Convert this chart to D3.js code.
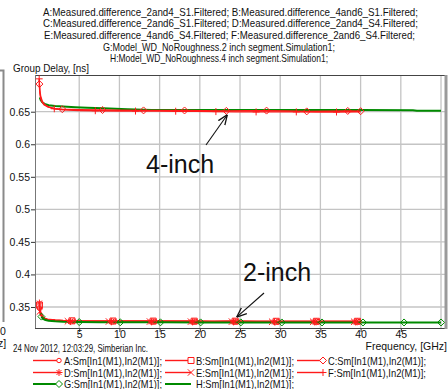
<!DOCTYPE html>
<html>
<head>
<meta charset="utf-8">
<script src="https://cdn.jsdelivr.net/npm/d3@7"></script>
<style>
  html, body { margin: 0; padding: 0; background: #ffffff; }
  svg { display: block; }
  text { font-family: "Liberation Sans", Arial, sans-serif; fill: #111; }
</style>
</head>
<body>
<svg id="chart" width="448" height="389"></svg>
<script>
// ---- Chart text ----
const titleLines = [
  "A:Measured.difference_2and4_S1.Filtered; B:Measured.difference_4and6_S1.Filtered;",
  "C:Measured.difference_2and6_S1.Filtered; D:Measured.difference_2and4_S4.Filtered;",
  "E:Measured.difference_4and6_S4.Filtered; F:Measured.difference_2and6_S4.Filtered;",
  "G:Model_WD_NoRoughness.2 inch segment.Simulation1;",
  "H:Model_WD_NoRoughness.4 inch segment.Simulation1;"
];
const yTitle = "Group Delay, [ns]";
const xTitle = "Frequency, [GHz]";
const stamp = "24 Nov 2012, 12:03:29, Simberian Inc.";
const xTicks = [5, 10, 15, 20, 25, 30, 35, 40, 45];
const xGrid = [5, 10, 15, 20, 25, 30, 35, 40, 45, 50];
const yTicks = [0.35, 0.4, 0.45, 0.5, 0.55, 0.6, 0.65];
const legendSuffix = ":Sm[In1(M1),In2(M1)];";

// ---- Series: [frequency GHz, group delay ns] ----
// 4-inch segment (difference 2 and 6)
const seriesC = [[0.05,0.6925],[0.1,0.683],[0.2,0.674],[0.4,0.666],[0.7,0.661],[1.2,0.657],[2,0.6548],[2.9,0.6538],[5,0.653],[7.9,0.6526],[10,0.6522],[13,0.652],[15.5,0.6519],[18.1,0.6519],[20.5,0.6514],[23.3,0.6513],[25.8,0.6515],[28.3,0.6517],[30.8,0.6512],[33.3,0.6505],[36,0.6508],[38.4,0.6512],[40,0.6508]];
const seriesF = [[0.02,0.7005],[0.05,0.69],[0.1,0.679],[0.2,0.671],[0.3,0.6665],[0.6,0.661],[1,0.658],[1.9,0.6545],[3,0.6528],[5,0.6518],[7,0.6515],[10,0.6512],[12,0.651],[15,0.651],[17,0.6508],[19.5,0.6505],[22,0.6502],[24.5,0.6498],[27,0.6497],[29.5,0.6498],[32,0.6497],[34.5,0.6495],[37,0.6496],[40,0.6497]];
const seriesH = [[0.1,0.672],[0.2,0.668],[0.4,0.6645],[0.7,0.662],[1.2,0.66],[2,0.6588],[3,0.658],[4.5,0.657],[6,0.6562],[8,0.6552],[11,0.6538],[14,0.6528],[20,0.6527],[30,0.6526],[40,0.6525],[46.5,0.6524],[47,0.6516],[50,0.6514]];
// 2-inch segment (differences 2 and 4, 4 and 6)
const seriesA = [[0.05,0.3485],[0.15,0.3412],[0.3,0.3362],[0.6,0.3325],[1,0.3308],[2,0.3295],[3,0.3288],[4.3,0.3283],[6.8,0.3281],[9.4,0.328],[11.9,0.3279],[14.4,0.3279],[17,0.3278],[19.5,0.3278],[22,0.3277],[24.6,0.3278],[27.2,0.3277],[29.7,0.3276],[32.2,0.3276],[34.7,0.3276],[37.3,0.3275],[39.8,0.3276],[40,0.3276]];
const seriesB = [[0.05,0.353],[0.12,0.344],[0.3,0.3372],[0.6,0.333],[1,0.3312],[2,0.3298],[3,0.3291],[4.1,0.3287],[6.6,0.3285],[9.2,0.3284],[11.7,0.3283],[14.2,0.3283],[16.8,0.3282],[19.3,0.3282],[21.8,0.3281],[24.4,0.3282],[27,0.3281],[29.5,0.328],[32,0.328],[34.5,0.328],[37,0.3279],[39.6,0.328],[40,0.328]];
const seriesD = [[0.05,0.356],[0.12,0.346],[0.3,0.3375],[0.6,0.3328],[1,0.3306],[2,0.329],[3,0.328],[3.9,0.3276],[6.4,0.3274],[9,0.3273],[11.5,0.3272],[14,0.3272],[16.6,0.3271],[19.1,0.3271],[21.6,0.327],[24.2,0.3271],[26.8,0.327],[29.3,0.327],[31.8,0.3269],[34.3,0.3269],[36.8,0.3269],[39.4,0.3269],[40,0.3269]];
const seriesE = [[0.1,0.343],[0.2,0.3385],[0.4,0.3345],[0.7,0.3318],[1.2,0.33],[2,0.329],[3,0.3283],[3.6,0.328],[6.2,0.3278],[8.7,0.3277],[11.2,0.3276],[13.8,0.3276],[16.4,0.3275],[18.9,0.3275],[21.4,0.3274],[24,0.3275],[26.5,0.3274],[29,0.3273],[31.6,0.3273],[34.1,0.3273],[36.6,0.3272],[39.2,0.3273],[40,0.3273]];
const seriesG = [[0.3,0.3352],[0.5,0.3318],[0.8,0.33],[1.2,0.329],[2,0.328],[3,0.3273],[5,0.3268],[7.5,0.3266],[10.1,0.3265],[15.1,0.3264],[20.1,0.3263],[25.1,0.3263],[30.2,0.3262],[35.2,0.3262],[40.3,0.3262],[45.4,0.3262],[50,0.3262]];

// Frequencies that carry a marker symbol
const marksA = [0.05, 4.3, 9.4, 14.4, 19.5, 24.6, 29.7, 34.7, 39.8];
const marksB = [0.05, 4.1, 9.2, 14.2, 19.3, 24.4, 29.5, 34.5, 39.6];
const marksC = [0.05, 2.9, 7.9, 13, 18.1, 23.3, 28.3, 33.3, 38.4, 40];
const marksD = [0.05, 3.9, 9, 14, 19.1, 24.2, 29.3, 34.3, 39.4];
const marksE = [0.1, 3.6, 8.7, 13.8, 18.9, 24, 29, 34.1, 39.2];
const marksF = [0.02, 1.9, 7, 12, 17, 22, 27, 32, 37];
const marksG = [0.3, 5, 10.1, 15.1, 20.1, 25.1, 30.2, 35.2, 40.3, 45.4, 50];
const marksH = [];

// Annotation labels, each pointing at a point on its curve
const notes = [
  { text: "4-inch", f: 23.3, v: 0.6515 },
  { text: "2-inch", f: 24.4, v: 0.3282 }
];

// ---- Layout ----
const RED = "#ff1a1a", GREEN = "#008a00";
const plot = { left: 35, right: 446, top: 75, bottom: 328 };
const svg = d3.select("#chart");

const x = d3.scaleLinear().domain([-0.5, 50.62]).range([plot.left, plot.right]);
const y = d3.scaleLinear().domain([0.3177, 0.7064]).range([plot.bottom, plot.top]);

// Title block
const titleSpans = [[43, 375], [43, 375], [44, 371], [103, 232], [110, 218]];
const titleBase = [15.5, 27.2, 38.9, 50.6, 62.3];
titleLines.forEach((t, i) => {
  svg.append("text").attr("x", titleSpans[i][0]).attr("y", titleBase[i])
    .attr("font-size", 10.5).attr("textLength", titleSpans[i][1])
    .attr("lengthAdjust", "spacingAndGlyphs").text(t);
});
svg.append("text").attr("x", 13).attr("y", 71.5).attr("font-size", 10.5)
  .attr("textLength", 76).attr("lengthAdjust", "spacingAndGlyphs").text(yTitle);

// Edge of the neighbouring panel on the far left
svg.append("path").attr("d", "M0,70.5H3.5V322").attr("fill", "none")
  .attr("stroke", "#8a8a8a").attr("stroke-width", 2);
svg.append("text").attr("x", 0).attr("y", 335).attr("font-size", 10.5).text("0");
svg.append("text").attr("x", -2).attr("y", 347).attr("font-size", 10.5).text("z]");

// Grid
const grid = svg.append("g").attr("stroke", "#c4c4c4").attr("stroke-width", 1.3);
xGrid.forEach(f => grid.append("line").attr("x1", x(f)).attr("x2", x(f))
  .attr("y1", plot.top).attr("y2", plot.bottom));
yTicks.forEach(v => grid.append("line").attr("x1", plot.left).attr("x2", plot.right)
  .attr("y1", y(v)).attr("y2", y(v)));

// Axes
const yAxis = d3.axisLeft(y).tickValues(yTicks).tickSize(4).tickPadding(1)
  .tickFormat(d => String(+d.toFixed(2)));
const gy = svg.append("g").attr("transform", `translate(${plot.left},0)`).call(yAxis);
const xAxis = d3.axisBottom(x).tickValues(xTicks).tickSize(4).tickPadding(-1).tickFormat(d3.format("d"));
const gx = svg.append("g").attr("transform", `translate(0,${plot.bottom})`).call(xAxis);
[gx, gy].forEach(g => {
  g.select(".domain").remove();
  g.selectAll("line").attr("stroke", "#333");
  g.selectAll("text").attr("font-family", "Liberation Sans, Arial, sans-serif")
    .attr("font-size", 10.5).attr("fill", "#111");
});

// Frame
svg.append("line").attr("x1", plot.left).attr("x2", plot.right).attr("y1", plot.top + 0.5).attr("y2", plot.top + 0.5)
  .attr("stroke", "#444");
svg.append("line").attr("x1", plot.left + 0.5).attr("x2", plot.left + 0.5).attr("y1", plot.top).attr("y2", plot.bottom)
  .attr("stroke", "#777");
svg.append("line").attr("x1", plot.left).attr("x2", plot.right).attr("y1", plot.bottom + 0.5).attr("y2", plot.bottom + 0.5)
  .attr("stroke", "#444");
svg.append("line").attr("x1", plot.right).attr("x2", plot.right).attr("y1", plot.top).attr("y2", plot.bottom + 1)
  .attr("stroke", "#9a9a9a").attr("stroke-width", 3);

// ---- Marker shapes ----
function markerPath(kind, s) {
  switch (kind) {
    case "circle": return d3.symbol(d3.symbolCircle, Math.PI * s * s * 0.55)();
    case "square": return `M${-s},${-s}H${s}V${s}H${-s}Z`;
    case "diamond": return `M0,${-s}L${s},0L0,${s}L${-s},0Z`;
    case "plus": return `M${-s},0H${s}M0,${-s}V${s}`;
    case "cross": return `M${-s},${-s}L${s},${s}M${-s},${s}L${s},${-s}`;
    case "star": return `M${-s},0H${s}M0,${-s}V${s}M${-s*0.7},${-s*0.7}L${s*0.7},${s*0.7}M${-s*0.7},${s*0.7}L${s*0.7},${-s*0.7}`;
    default: return "";
  }
}
const markerSize = { circle: 3, square: 3, diamond: 3.5, plus: 3.5, cross: 3.2, star: 3.5 };

const series = [
  { name: "A", data: seriesA, marks: marksA, color: RED, width: 1.6, marker: "circle" },
  { name: "B", data: seriesB, marks: marksB, color: RED, width: 1.6, marker: "square" },
  { name: "D", data: seriesD, marks: marksD, color: RED, width: 1.6, marker: "star" },
  { name: "E", data: seriesE, marks: marksE, color: RED, width: 1.6, marker: "cross" },
  { name: "G", data: seriesG, marks: marksG, color: GREEN, width: 2, marker: "diamond" },
  { name: "H", data: seriesH, marks: marksH, color: GREEN, width: 2, marker: null },
  { name: "C", data: seriesC, marks: marksC, color: RED, width: 1.4, marker: "diamond" },
  { name: "F", data: seriesF, marks: marksF, color: RED, width: 1.4, marker: "plus" }
];

const line = d3.line().x(d => x(d[0])).y(d => y(d[1]));
const plotG = svg.append("g");
series.forEach(s => {
  plotG.append("path").datum(s.data).attr("d", line).attr("fill", "none")
    .attr("stroke", s.color).attr("stroke-width", s.width).attr("stroke-linejoin", "round");
});
series.forEach(s => {
  if (!s.marker) return;
  const pts = s.data.filter(d => s.marks.some(m => Math.abs(m - d[0]) < 1e-9));
  plotG.selectAll(null).data(pts).enter().append("path")
    .attr("transform", d => `translate(${x(d[0])},${y(d[1])})`)
    .attr("d", markerPath(s.marker, markerSize[s.marker]))
    .attr("fill", "none").attr("stroke", s.color).attr("stroke-width", 1);
});

// ---- Annotations ----
svg.append("defs").append("marker").attr("id", "arrow").attr("viewBox", "0 0 10 10")
  .attr("refX", 10).attr("refY", 5).attr("markerWidth", 10).attr("markerHeight", 10)
  .attr("markerUnits", "userSpaceOnUse").attr("orient", "auto")
  .append("path").attr("d", "M0,1L10,5L0,9").attr("fill", "none").attr("stroke", "#111").attr("stroke-width", 1.3);

const noteTextPos = [[146, 173], [243, 281]];
const noteTail = [[206, 145], [264, 293]];
notes.forEach((n, i) => {
  svg.append("text").attr("x", noteTextPos[i][0]).attr("y", noteTextPos[i][1])
    .attr("font-family", "Open Sans, sans-serif").attr("font-size", 25).attr("fill", "#111")
    .text(n.text);
  svg.append("line").attr("x1", noteTail[i][0]).attr("y1", noteTail[i][1])
    .attr("x2", x(n.f) + (i === 0 ? 1 : 1.5)).attr("y2", y(n.v) + (i === 0 ? 4 : -4))
    .attr("stroke", "#111").attr("stroke-width", 1.1).attr("marker-end", "url(#arrow)");
});

// ---- Footer ----
svg.append("text").attr("x", 13).attr("y", 352).attr("font-size", 10.5)
  .attr("textLength", 135).attr("lengthAdjust", "spacingAndGlyphs").text(stamp);
svg.append("text").attr("x", 447).attr("y", 349.5).attr("font-size", 10.5)
  .attr("text-anchor", "end").text(xTitle);

// ---- Legend ----
const legendOrder = ["A", "B", "C", "D", "E", "F", "G", "H"];
const colX = [33, 165, 297];
const rowY = [360.5, 372.5, 384];
legendOrder.forEach((nm, i) => {
  const s = series.find(d => d.name === nm);
  const cx = colX[i % 3], cy = rowY[Math.floor(i / 3)];
  const g = svg.append("g").attr("transform", `translate(${cx},${cy})`);
  g.append("line").attr("x1", 0).attr("x2", 26).attr("y1", 0).attr("y2", 0)
    .attr("stroke", s.color).attr("stroke-width", s.color === GREEN ? 2 : 1.4);
  if (s.marker) {
    g.append("path").attr("transform", "translate(26,0)")
      .attr("d", markerPath(s.marker, markerSize[s.marker]))
      .attr("fill", "#fff").attr("stroke", s.color).attr("stroke-width", 1);
  }
  g.append("text").attr("x", 31).attr("y", 4).attr("font-size", 10.5)
    .attr("textLength", 98).attr("lengthAdjust", "spacingAndGlyphs").text(nm + legendSuffix);
});
</script>
</body>
</html>
